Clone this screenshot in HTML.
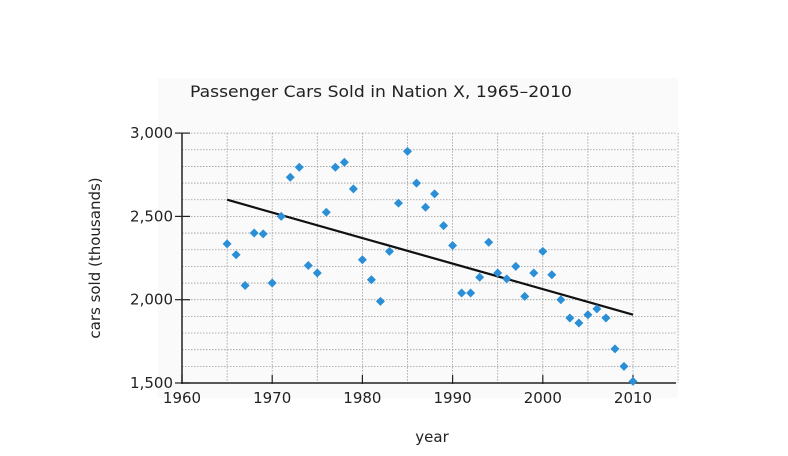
<!DOCTYPE html>
<html><head><meta charset="utf-8"><style>
body{margin:0;background:#fff;}
svg{display:block;font-family:"DejaVu Sans","Liberation Sans",sans-serif;}
</style></head><body>
<svg id="chart" width="788" height="456">
<rect x="158" y="78" width="520" height="320" fill="#fafafa"/>
<text x="381" y="97" font-size="16" text-anchor="middle" fill="#222" textLength="382" lengthAdjust="spacingAndGlyphs">Passenger Cars Sold in Nation X, 1965–2010</text>
<g id="grid"></g><g id="axes"></g><g id="marks"></g>
<text x="432" y="442" font-size="15" text-anchor="middle" fill="#222">year</text>
<text transform="translate(100,258) rotate(-90)" font-size="15" text-anchor="middle" fill="#222">cars sold (thousands)</text>
</svg>
<script>
const years=[1965,1966,1967,1968,1969,1970,1971,1972,1973,1974,1975,1976,1977,1978,1979,1980,1981,1982,1983,1984,1985,1986,1987,1988,1989,1990,1991,1992,1993,1994,1995,1996,1997,1998,1999,2000,2001,2002,2003,2004,2005,2006,2007,2008,2009,2010];
const sales=[2335,2270,2085,2400,2395,2100,2500,2735,2795,2205,2160,2525,2795,2825,2665,2240,2120,1990,2290,2580,2890,2700,2555,2635,2445,2325,2040,2040,2135,2345,2160,2125,2200,2020,2160,2290,2150,2000,1890,1860,1910,1945,1890,1705,1600,1510];
const trendYears=[1965,2010];
const trendValues=[2600,1910];
const xTicks=[1960,1970,1980,1990,2000,2010];
const yTicks=[1500,2000,2500,3000];
const yTickLabels=["1,500","2,000","2,500","3,000"];
const NS="http://www.w3.org/2000/svg";
const X=v=>182+(v-1960)*9.02;
const Y=v=>383-(v-1500)*0.1666;
function mk(t,a,p){const e=document.createElementNS(NS,t);for(const k in a)e.setAttribute(k,a[k]);p.appendChild(e);return e;}
const grid=document.getElementById('grid'),axes=document.getElementById('axes'),marks=document.getElementById('marks');
for(let y=1600;y<=3000;y+=100){const l=mk('line',{x1:182,x2:676,y1:Y(y),y2:Y(y),stroke:'#999','stroke-width':0.8,'stroke-dasharray':'1.5,1.5'},grid);

}
for(let x=1965;x<=2015;x+=5){const l=mk('line',{x1:X(x),x2:X(x),y1:Y(3000),y2:Y(1500),stroke:'#999','stroke-width':0.8,'stroke-dasharray':'1.5,1.5'},grid);

}
const ya=mk('line',{x1:182,x2:182,y1:Y(3000),y2:Y(1500)+1,stroke:'#222','stroke-width':1.5},axes);


const xa=mk('line',{x1:181,x2:676,y1:Y(1500),y2:Y(1500),stroke:'#222','stroke-width':1.5},axes);


yTicks.forEach((v,i)=>{mk('line',{x1:175,x2:190,y1:Y(v),y2:Y(v),stroke:'#222','stroke-width':1.2},axes);
const t=mk('text',{x:173,y:Y(v)+5,'font-size':15,'text-anchor':'end',fill:'#222'},axes);t.textContent=yTickLabels[i];

});
xTicks.forEach(v=>{mk('line',{x1:X(v),x2:X(v),y1:Y(1500)-8,y2:Y(1500)+1,stroke:'#222','stroke-width':1.2},axes);
const t=mk('text',{x:X(v),y:Y(1500)+20,'font-size':15,'text-anchor':'middle',fill:'#222'},axes);t.textContent=v;

});
const tl=mk('line',{x1:X(trendYears[0]),y1:Y(trendValues[0]),x2:X(trendYears[1]),y2:Y(trendValues[1]),stroke:'#111','stroke-width':2.2},marks);


years.forEach((yr,i)=>{const cx=X(yr),cy=Y(sales[i]),r=4.5;
const p=mk('polygon',{points:`${cx},${cy-r} ${cx+r},${cy} ${cx},${cy+r} ${cx-r},${cy}`,fill:'#2a8fd6'},marks);

});
</script>
</body></html>
